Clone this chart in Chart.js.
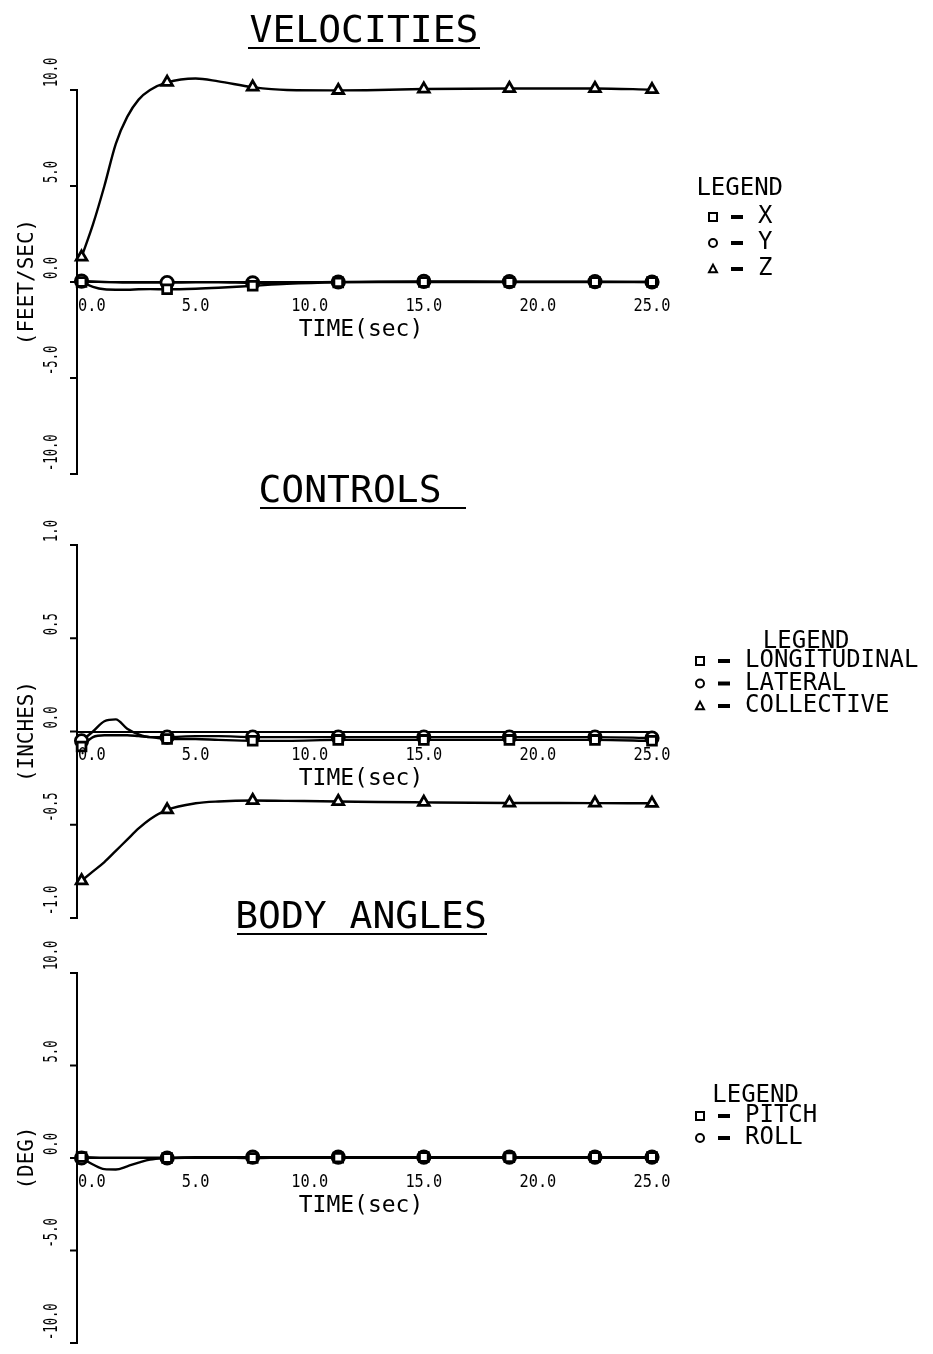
<!DOCTYPE html>
<html>
<head>
<meta charset="utf-8">
<script src="https://cdn.jsdelivr.net/npm/chart.js@4.4.1/dist/chart.umd.min.js"></script>
<style>
  html, body { margin: 0; background: #fff; }
  #page { position: relative; width: 933px; height: 1354px; overflow: hidden; background: #fff; }
  canvas { position: absolute; left: 0; }
</style>
</head>
<body>
<div id="page">
  <canvas id="velocities" width="933" height="490" style="top:0px"></canvas>
  <canvas id="controls" width="933" height="460" style="top:470px"></canvas>
  <canvas id="angles" width="933" height="464" style="top:890px"></canvas>
</div>
<script>
// sample times (sec) shared by every trace, markers every 3.75 s
const timeSec = [0, 0.5, 1, 1.5, 2, 2.5, 3, 3.75, 5, 6, 7.5, 9, 11.25, 13, 15, 18.75, 22.5, 25];
const markerTimes = [0, 3.75, 7.5, 11.25, 15, 18.75, 22.5, 25];
const xTickValues = [0, 5, 10, 15, 20, 25];

// velocities (ft/sec)
const velX = [0.0, -0.25, -0.38, -0.4, -0.4, -0.38, -0.37, -0.38, -0.35, -0.3, -0.2, -0.1, -0.02, 0.0, 0.0, 0.0, 0.0, 0.0];
const velY = [0.05, 0.03, 0.0, -0.02, -0.03, -0.03, -0.03, -0.03, -0.02, -0.02, -0.05, -0.03, 0.0, 0.02, 0.03, 0.02, 0.02, 0.0];
const velZ = [1.3, 3.0, 5.0, 7.2, 8.6, 9.5, 10.0, 10.4, 10.6, 10.45, 10.15, 10.0, 9.98, 10.0, 10.05, 10.08, 10.08, 10.02];
const velTicks = [-10, -5, 0, 5, 10];

// controls (inches)
const ctlLongitudinal = [-0.08, -0.03, -0.02, -0.02, -0.02, -0.025, -0.03, -0.04, -0.04, -0.045, -0.05, -0.05, -0.045, -0.045, -0.045, -0.045, -0.045, -0.05];
const ctlLateral = [-0.05, 0.0, 0.055, 0.065, 0.015, -0.015, -0.03, -0.03, -0.025, -0.025, -0.03, -0.03, -0.03, -0.03, -0.03, -0.03, -0.03, -0.035];
const ctlCollective = [-0.8, -0.75, -0.7, -0.64, -0.58, -0.52, -0.47, -0.42, -0.385, -0.375, -0.37, -0.372, -0.375, -0.378, -0.38, -0.383, -0.384, -0.385];
const ctlTicks = [-1, -0.5, 0, 0.5, 1];

// body angles (deg)
const angPitch = [0.05, 0.03, 0.02, 0.02, 0.02, 0.02, 0.02, 0.0, 0.02, 0.03, 0.0, 0.03, 0.02, 0.03, 0.05, 0.04, 0.05, 0.05];
const angRoll = [0.0, -0.35, -0.6, -0.62, -0.45, -0.25, -0.08, 0.0, 0.05, 0.05, 0.05, 0.05, 0.05, 0.05, 0.05, 0.05, 0.05, 0.05];
const angTicks = [-10, -5, 0, 5, 10];

const FONT = '"DejaVu Sans Mono", monospace';

function toPoints(values) {
  return timeSec.map((t, i) => ({ x: t, y: values[i] }));
}

function series(label, values, pointStyle) {
  return {
    label,
    data: toPoints(values),
    pointStyle,
    clip: false,
    borderColor: "#000",
    borderWidth: 2.4,
    backgroundColor: "#fff",
    pointBorderColor: "#000",
    pointBackgroundColor: "#fff",
    pointBorderWidth: 2.8,
    pointRadius: (ctx) => (ctx.raw && markerTimes.includes(ctx.raw.x) ? 6.2 : 0),
    pointHoverRadius: 0,
    cubicInterpolationMode: "monotone",
    fill: false,
  };
}

function text(ctx, str, x, y, size, opts = {}) {
  const { sx = 1, align = "center", baseline = "middle", rot = 0 } = opts;
  ctx.save();
  ctx.translate(x, y);
  ctx.rotate(rot);
  ctx.scale(sx, 1);
  ctx.font = `${size}px ${FONT}`;
  ctx.textAlign = align;
  ctx.textBaseline = baseline;
  ctx.fillStyle = "#000";
  ctx.fillText(str, 0, 0);
  ctx.restore();
}

function marker(ctx, style, cx, cy, r) {
  ctx.beginPath();
  if (style === "rect") {
    ctx.rect(cx - r, cy - r, 2 * r, 2 * r);
  } else if (style === "circle") {
    ctx.arc(cx, cy, r, 0, Math.PI * 2);
  } else {
    ctx.moveTo(cx, cy - r * 1.1);
    ctx.lineTo(cx + r, cy + r * 0.8);
    ctx.lineTo(cx - r, cy + r * 0.8);
    ctx.closePath();
  }
  ctx.stroke();
}

// plotter style decorations: underlined title, rotated y labels, zero-line x labels, legend block
const panelDecor = {
  id: "panelDecor",
  afterDraw(chart, args, opts) {
    const { ctx, scales: { x, y } } = chart;
    const axisX = y.right;
    const zeroY = y.getPixelForValue(0);

    ctx.save();
    ctx.strokeStyle = "#000";
    ctx.lineWidth = 2;

    // title + underline
    text(ctx, opts.title, opts.titleX, opts.titleY, 38, { baseline: "alphabetic" });
    ctx.beginPath();
    ctx.moveTo(opts.underline[0], opts.titleY + 6);
    ctx.lineTo(opts.underline[1], opts.titleY + 6);
    ctx.stroke();

    // y ticks pointing left, labels reading upward from the tick
    opts.yTicks.forEach((v) => {
      const py = y.getPixelForValue(v);
      ctx.beginPath();
      ctx.moveTo(axisX - 7, py);
      ctx.lineTo(axisX, py);
      ctx.stroke();
      text(ctx, v.toFixed(1), 52, py - 3, 19, { sx: 0.64, align: "left", rot: -Math.PI / 2 });
    });
    const midY = (y.top + y.bottom) / 2;
    text(ctx, opts.yTitle, 28, midY, 21, { rot: -Math.PI / 2 });

    // x labels hang under the zero line
    xTickValues.forEach((v, i) => {
      const px = x.getPixelForValue(v);
      if (i === 0) {
        text(ctx, v.toFixed(1), axisX + 1, zeroY + 24, 18, { sx: 0.85, align: "left" });
      } else {
        text(ctx, v.toFixed(1), px, zeroY + 24, 18, { sx: 0.85 });
      }
    });
    text(ctx, "TIME(sec)", 361, zeroY + 48, 23);

    // legend
    const lg = opts.legend;
    const sets = chart.data.datasets;
    ctx.font = `24px ${FONT}`;
    let right = lg.x;
    sets.forEach((ds) => {
      right = Math.max(right, lg.x + 45 + ctx.measureText(ds.label).width);
    });
    text(ctx, "LEGEND", (lg.x - 6 + right) / 2, lg.y, 24);
    sets.forEach((ds, i) => {
      const ry = lg.y + lg.first + i * lg.gap;
      ctx.lineWidth = 2;
      marker(ctx, ds.pointStyle, lg.x, ry, 4);
      ctx.fillStyle = "#000";
      ctx.fillRect(lg.x + 18, ry - 2, 12, 4);
      text(ctx, ds.label, lg.x + 45, ry, 24, { align: "left" });
    });
    ctx.restore();
  },
};

function makePanel(id, datasets, yMin, yMax, padTop, padBottom, decor) {
  return new Chart(document.getElementById(id), {
    type: "line",
    data: { datasets },
    plugins: [panelDecor],
    options: {
      responsive: false,
      animation: false,
      events: [],
      layout: { padding: { top: padTop, bottom: padBottom, left: 0, right: 281 } },
      plugins: {
        legend: { display: false },
        tooltip: { enabled: false },
        panelDecor: decor,
      },
      scales: {
        x: {
          type: "linear",
          min: -0.2,
          max: 25,
          position: { y: 0 },
          grid: { display: false },
          ticks: { display: false },
          border: { display: true, color: "#000", width: 2 },
        },
        y: {
          type: "linear",
          min: yMin,
          max: yMax,
          position: "left",
          grid: { display: false },
          ticks: { display: false },
          border: { display: true, color: "#000", width: 2 },
          afterFit: (s) => { s.width = 77; },
        },
      },
    },
  });
}

makePanel("velocities", [
  series("X", velX, "rect"),
  series("Y", velY, "circle"),
  series("Z", velZ, "triangle"),
], -10, 10, 90, 16, {
  title: "VELOCITIES", titleX: 364, titleY: 42, underline: [248, 480],
  yTicks: velTicks, yTitle: "(FEET/SEC)",
  legend: { x: 713, y: 189, first: 28, gap: 26 },
});

makePanel("controls", [
  series("LONGITUDINAL", ctlLongitudinal, "rect"),
  series("LATERAL", ctlLateral, "circle"),
  series("COLLECTIVE", ctlCollective, "triangle"),
], -1, 1, 75, 12, {
  title: "CONTROLS", titleX: 350, titleY: 32, underline: [260, 466],
  yTicks: ctlTicks, yTitle: "(INCHES)",
  legend: { x: 700, y: 172, first: 19, gap: 22.5 },
});

makePanel("angles", [
  series("PITCH", angPitch, "rect"),
  series("ROLL", angRoll, "circle"),
], -10, 10, 83, 11, {
  title: "BODY ANGLES", titleX: 361, titleY: 38, underline: [237, 487],
  yTicks: angTicks, yTitle: "(DEG)",
  legend: { x: 700, y: 206, first: 20, gap: 22 },
});
</script>
</body>
</html>
